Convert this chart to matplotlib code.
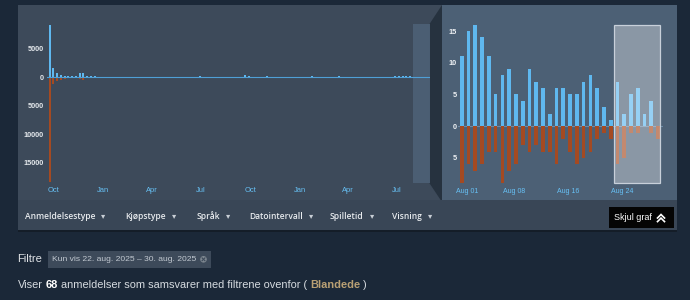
import matplotlib
matplotlib.use("Agg")
import matplotlib.pyplot as plt
import matplotlib.dates as mdates
from matplotlib.patches import Rectangle, Polygon, Circle
from matplotlib.lines import Line2D
from matplotlib.transforms import Affine2D
from matplotlib.ticker import FixedLocator, FuncFormatter
import numpy as np
import pandas as pd

plt.rcParams["font.family"] = ["Liberation Sans", "DejaVu Sans"]

# ---- review counts -------------------------------------------------------
# weekly totals for the whole history (overview strip)
weekly_start = "2023-09-21"
weekly_pos = [
    9000, 1650, 680, 300, 170, 140, 110, 120, 680, 740,
    180, 120, 90, 80, 70, 60, 60, 50, 50, 45,
    40, 40, 35, 35, 30, 30, 30, 25, 25, 25,
    25, 30, 25, 20, 25, 20, 20, 25, 20, 30,
    160, 60, 40, 35, 30, 30, 25, 30, 25, 30,
    35, 60, 340, 90, 60, 50, 40, 45, 110, 50,
    40, 35, 35, 30, 30, 35, 30, 25, 30, 30,
    90, 35, 30, 30, 25, 30, 30, 90, 35, 30,
    30, 25, 30, 25, 25, 30, 25, 30, 25, 30,
    35, 40, 120, 110, 100, 110, 90, 80, 42, 43,
    26, 4,
]
weekly_neg = [
    18400, 1250, 750, 450, 320, 260, 230, 210, 380, 460,
    260, 200, 170, 150, 140, 130, 120, 110, 110, 100,
    100, 90, 90, 80, 80, 70, 60, 55, 50, 50,
    45, 45, 40, 40, 40, 35, 35, 35, 30, 35,
    60, 40, 30, 30, 25, 25, 25, 25, 20, 25,
    30, 40, 250, 80, 50, 40, 35, 35, 60, 35,
    30, 30, 25, 25, 25, 25, 20, 20, 25, 25,
    50, 25, 20, 20, 20, 20, 25, 50, 25, 20,
    20, 20, 20, 20, 20, 20, 20, 20, 20, 25,
    25, 30, 70, 60, 60, 55, 50, 45, 31, 29,
    16, 3,
]

# daily counts for the zoomed month
daily_start = "2025-07-31"
daily_pos = [11, 15, 16, 14, 11, 5, 8, 9, 5, 4, 9, 7, 6, 2, 6,
             6, 5, 5, 7, 8, 6, 3, 1, 7, 2, 5, 6, 2, 4, 0]
daily_neg = [9, 6, 7, 6, 4, 4, 9, 7, 6, 3, 4, 3, 4, 4, 6,
             2, 4, 6, 5, 4, 2, 1, 2, 6, 5, 1, 1, 0, 1, 2]

overview_yticks = [5000, 0, -5000, -10000, -15000]
overview_xlim = ("2023-09-18", "2025-09-01")
overview_window = ("2025-08-01", "2025-09-01")

detail_yticks = [15, 10, 5, 0, -5]
detail_xticks = ["2025-08-01", "2025-08-08", "2025-08-16", "2025-08-24"]
detail_xlim = ("2025-07-30 18:00", "2025-08-30 00:00")
filter_window = ("2025-08-22 18:00", "2025-08-29 13:30")

menu_labels = ["Anmeldelsestype", "Kjøpstype", "Språk", "Datointervall",
               "Spilletid", "Visning"]
filter_label = "Kun vis 22. aug. 2025 – 30. aug. 2025"
review_count = 68
review_summary = "Blandede"

# ---- colours -------------------------------------------------------------
PAGE = "#1b2838"
PANEL_L = "#3d4a5a"
PANEL_R = "#4c6075"
LINK = "#26323f"
BAR_POS = "#5fb8ef"
BAR_NEG = "#a44a22"
TICK_BLUE = "#67c1f5"
TXT = "#d6dbe0"

# ---- figure + pixel helpers ---------------------------------------------
W, H = 690, 300
fig = plt.figure(figsize=(W / 100, H / 100), dpi=100, facecolor=PAGE)
px = Affine2D().scale(1 / W, -1 / H).translate(0, 1) + fig.transFigure


def box(x0, y0, x1, y1):
    return [x0 / W, 1 - y1 / H, (x1 - x0) / W, (y1 - y0) / H]


def rect(x0, y0, x1, y1, color, z=-5, **kw):
    fig.add_artist(Rectangle((x0, y0), x1 - x0, y1 - y0, transform=px,
                             facecolor=color, edgecolor="none", zorder=z, **kw))


def ftext(x, y, s, **kw):
    kw.setdefault("va", "center")
    kw.setdefault("ha", "left")
    return fig.text(x / W, 1 - y / H, s, **kw)


# panels behind the two charts
rect(18, 5, 442, 200, PANEL_L, z=-6)
rect(442, 5, 677, 202, PANEL_R, z=-6)
fig.add_artist(Polygon([(429.3, 24.3), (442, 5), (442, 202), (429.3, 183)],
                       closed=True, transform=px, facecolor=LINK,
                       edgecolor="none", zorder=-5))

# ---- overview chart ------------------------------------------------------
ax1 = fig.add_axes(box(47, 24.3, 430, 183))
ax1.set_facecolor("none")
weeks = mdates.date2num(pd.date_range(weekly_start, periods=len(weekly_pos),
                                      freq="7D").to_pydatetime())
ax1.bar(weeks, weekly_pos, width=3.6, align="edge", color=BAR_POS,
        linewidth=0, zorder=2)
ax1.bar(weeks, -np.asarray(weekly_neg), width=3.6, align="edge",
        color=BAR_NEG, linewidth=0, zorder=2)
ax1.axvspan(*mdates.datestr2num(list(overview_window)), color="#4d6076",
            alpha=0.93, lw=0, zorder=3)
ax1.axhline(0, color="#4f9fd6", lw=0.8, zorder=4)
ax1.set_xlim(*mdates.datestr2num(list(overview_xlim)))
ax1.set_ylim(-18500, 9200)
for s in ax1.spines.values():
    s.set_visible(False)
ax1.yaxis.set_major_locator(FixedLocator(overview_yticks))
ax1.yaxis.set_major_formatter(FuncFormatter(lambda v, p: f"{abs(int(v))}"))
ax1.xaxis.set_major_locator(mdates.MonthLocator(bymonth=[1, 4, 7, 10]))
ax1.xaxis.set_major_formatter(mdates.DateFormatter("%b"))
ax1.tick_params(axis="y", length=0, pad=2.2, labelsize=5.2,
                labelcolor="#e4e8ec")
ax1.tick_params(axis="x", length=0, pad=3.2, labelsize=5.4,
                labelcolor=TICK_BLUE)
plt.setp(ax1.get_yticklabels(), fontweight="bold")

# ---- detail chart --------------------------------------------------------
ax2 = fig.add_axes(box(458.2, 24.7, 663, 183.3))
ax2.set_facecolor("none")
days = mdates.date2num(pd.date_range(daily_start, periods=len(daily_pos),
                                     freq="D").to_pydatetime())
ax2.axhline(0, color="#6d8aa6", lw=0.8, zorder=1)
ax2.bar(days, daily_pos, width=0.55, align="edge", color=BAR_POS,
        linewidth=0, zorder=2)
ax2.bar(days, -np.asarray(daily_neg), width=0.55, align="edge",
        color=BAR_NEG, linewidth=0, zorder=2)
f0, f1 = mdates.datestr2num(list(filter_window))
ax2.add_patch(Rectangle((f0, -9), f1 - f0, 25, facecolor=(1, 1, 1, 0.35),
                        edgecolor=(0.85, 0.88, 0.91, 0.85), lw=0.9,
                        zorder=5, clip_on=False))
ax2.set_xlim(*mdates.datestr2num(list(detail_xlim)))
ax2.set_ylim(-9, 16)
for s in ax2.spines.values():
    s.set_visible(False)
ax2.yaxis.set_major_locator(FixedLocator(detail_yticks))
ax2.yaxis.set_major_formatter(FuncFormatter(lambda v, p: f"{abs(int(v))}"))
ax2.xaxis.set_major_locator(FixedLocator(mdates.datestr2num(detail_xticks)))
ax2.xaxis.set_major_formatter(mdates.DateFormatter("%b %d"))
ax2.tick_params(axis="y", length=0, pad=1.0, labelsize=5.3,
                labelcolor="#eef1f4")
ax2.tick_params(axis="x", length=0, pad=3.2, labelsize=5.0,
                labelcolor=TICK_BLUE)
plt.setp(ax2.get_yticklabels(), fontweight="bold")

# ---- toolbar -------------------------------------------------------------
rect(18, 229, 677, 232, "#141d28", z=-5)
rect(18, 200, 677, 229.5, "#394656", z=-4)
menu_x = [25, 125.5, 196.5, 249, 330, 392.5]
for lab, x in zip(menu_labels, menu_x):
    t = ftext(x, 216.5, lab, fontsize=6.1, color="#e8ebee",
              family=["Open Sans", "Liberation Sans", "DejaVu Sans"],
              fontweight="semibold")
    ax2.annotate("▾", xy=(1, 0.45), xycoords=t, xytext=(5.8, 0),
                 textcoords="offset points", ha="center", va="center",
                 fontsize=6, color="#c9cfd6")

rect(608.5, 207, 674, 227.5, "#050505", z=-3)
ftext(613.6, 217.5, "Skjul graf", fontsize=6.5, color="#ffffff")
for dy in (0, 3.6):
    fig.add_artist(Line2D([657.5, 661, 664.5], [218 + dy, 214.5 + dy, 218 + dy],
                          transform=px, color="white", lw=1.2,
                          solid_joinstyle="miter"))

# ---- active filter -------------------------------------------------------
ftext(17.6, 259, "Filtre", fontsize=8, color="#e0e3e6")
rect(47.8, 251, 211, 268, "#3d4a5a", z=-4)
ftext(51.5, 259.3, filter_label, fontsize=6.1, color="#c2c9d1")
fig.add_artist(Circle((203.5, 259.3), 3.3, transform=px, facecolor="#7f8891",
                      edgecolor="none"))
for sx in (1, -1):
    fig.add_artist(Line2D([202.1, 204.9], [259.3 - 1.4 * sx, 259.3 + 1.4 * sx],
                          transform=px, color="#3d4a5a", lw=0.8))

# ---- summary line --------------------------------------------------------
fs = 7.9
gap = 0.278 * fs
pieces = [
    ("Viser", "normal", TXT),
    (f"{review_count}", "bold", "#ffffff"),
    ("anmeldelser som samsvarer med filtrene ovenfor (", "normal", TXT),
    (review_summary, "bold", "#b9a074"),
    (")", "normal", TXT),
]
prev = ftext(17.6, 285, pieces[0][0], fontsize=fs, color=pieces[0][2])
for s, w, c in pieces[1:]:
    prev = ax2.annotate(s, xy=(1, 0.5), xycoords=prev, xytext=(gap, 0),
                        textcoords="offset points", va="center", ha="left",
                        fontsize=fs, fontweight=w, color=c)

fig.savefig("out.png", dpi=100, facecolor=PAGE)
